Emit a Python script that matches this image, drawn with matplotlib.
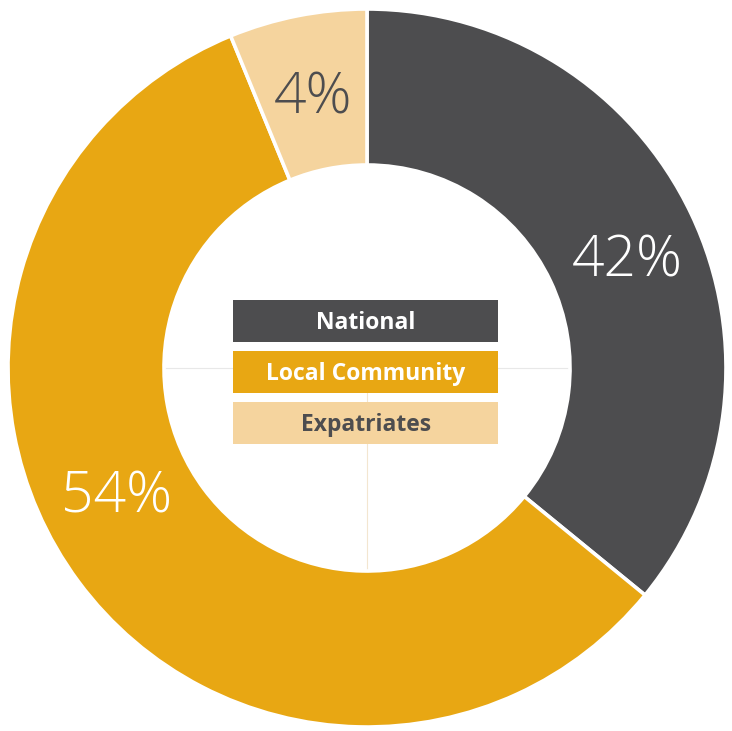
import matplotlib
matplotlib.use("Agg")
import matplotlib.pyplot as plt
from matplotlib.patches import Rectangle

categories = ["National", "Local Community", "Expatriates"]
shares = [35.9, 57.9, 6.2]
pct_labels = ["42%", "54%", "4%"]
colors = ["#4d4d4f", "#e8a713", "#f5d49e"]
label_colors = ["white", "white", "#4d4d4f"]
legend_text_colors = ["white", "white", "#4d4d4f"]

W, H = 732, 731
CX, CY, R = 367, 368, 359


def px(x, y):
    # pixel position (from top-left) -> data coords with pie radius 1
    return (x - CX) / R, (CY - y) / R


fig = plt.figure(figsize=(W / 100, H / 100), dpi=100)
ax = fig.add_axes([0, 0, 1, 1])

ax.pie(shares, colors=colors, startangle=90, counterclock=False, radius=1,
       wedgeprops=dict(width=1 - 203 / R, edgecolor="white", linewidth=2.6))

ax.set_aspect("auto")
ax.set_xlim(-CX / R, (W - CX) / R)
ax.set_ylim(-(H - CY) / R, CY / R)
ax.axis("off")

# faint cross lines in the hole
x0, y0 = px(165, 368)
x1, _ = px(570, 368)
ax.plot([x0, x1], [y0, y0], color="#e8e8e8", lw=0.8, zorder=0.5)
_, yb = px(367, 572)
ax.plot([0, 0], [0, yb], color="#f3e6d0", lw=0.8, zorder=0.5)

# percentage labels
label_pos = [(627, 262), (117, 498), (313, 99)]
for (x, y), txt, c in zip(label_pos, pct_labels, label_colors):
    ax.text(*px(x, y), txt, color=c, fontsize=41, fontfamily="Open Sans",
            fontweight="light", ha="center", va="center")

# legend boxes in the middle
box_tops = [300, 351, 402]
for top, name, col, tc in zip(box_tops, categories, colors, legend_text_colors):
    bx, by = px(233, top + 42)
    ax.add_patch(Rectangle((bx, by), 265 / R, 42 / R, facecolor=col,
                           edgecolor="none", zorder=3))
    ax.text(*px(366, top + 23), name, color=tc, fontsize=16.5,
            fontfamily="Open Sans", fontweight="bold",
            ha="center", va="center", zorder=4)

fig.savefig("out.png", dpi=100)
